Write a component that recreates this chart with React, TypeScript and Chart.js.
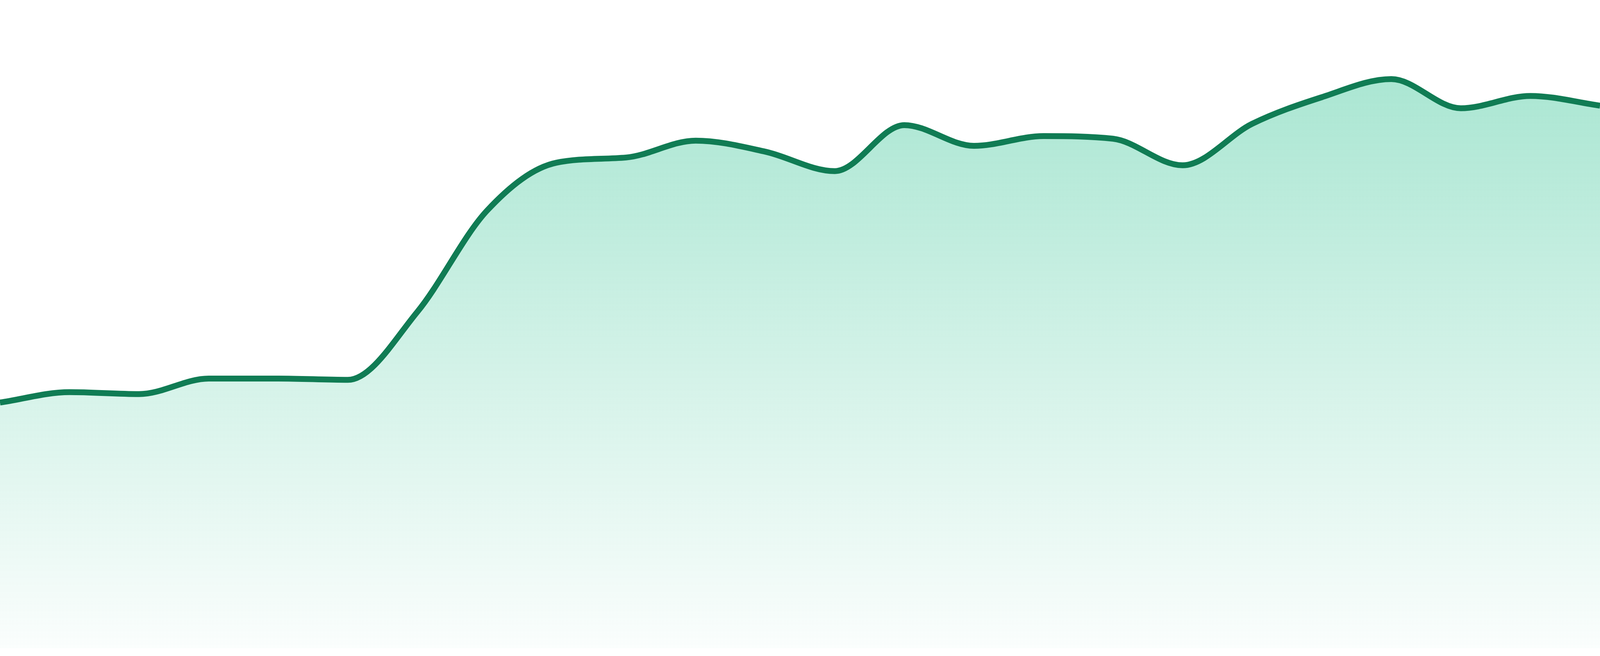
import React, { useEffect, useRef } from "react";
import { Chart, registerables } from "chart.js";

Chart.register(...registerables);

const categories: string[] = [
  "P01", "P02", "P03", "P04", "P05", "P06", "P07", "P08",
  "P09", "P10", "P11", "P12", "P13", "P14", "P15", "P16",
  "P17", "P18", "P19", "P20", "P21", "P22", "P23", "P24",
];

const seriesValues: number[] = [
  37.9, 39.5, 39.2, 41.6, 41.6, 41.4, 51.9, 67.5,
  74.9, 75.7, 78.3, 76.6, 73.6, 80.7, 77.5, 79.0,
  78.6, 74.5, 80.9, 85.0, 87.8, 83.3, 85.2, 83.7,
];

const yMin = 0;
const yMax = 100;

export default function App() {
  const canvasRef = useRef<HTMLCanvasElement | null>(null);

  useEffect(() => {
    document.body.style.margin = "0";
    document.documentElement.style.overflow = "hidden";
    const canvas = canvasRef.current;
    if (!canvas) return;
    const k = window.innerHeight / 1680;
    const chart = new Chart(canvas, {
      type: "line",
      data: {
        labels: categories,
        datasets: [
          {
            data: seriesValues,
            borderColor: "#107c54",
            borderWidth: 15 * k,
            pointRadius: 0,
            pointHoverRadius: 0,
            cubicInterpolationMode: "monotone",
            fill: "start",
            backgroundColor: (context: any) => {
              const c = context.chart;
              const area = c.chartArea;
              if (!area) return "rgba(16,185,129,0.2)";
              const g = c.ctx.createLinearGradient(0, area.top, 0, area.bottom);
              g.addColorStop(0, "rgba(16,185,129,0.40)");
              g.addColorStop(1, "rgba(16,185,129,0.02)");
              return g;
            },
          },
        ],
      },
      options: {
        animation: false,
        responsive: true,
        maintainAspectRatio: false,
        layout: { padding: { top: 0, bottom: 20 * k, left: 0, right: 0 } },
        plugins: {
          legend: { display: false },
          tooltip: { enabled: false },
        },
        scales: {
          x: { display: false, offset: false },
          y: { display: false, min: yMin, max: yMax },
        },
      },
    });
    return () => chart.destroy();
  }, []);

  return (
    <div style={{ position: "fixed", left: 0, top: 0, width: "100vw", height: "100vh", background: "#ffffff" }}>
      <canvas ref={canvasRef} />
    </div>
  );
}
